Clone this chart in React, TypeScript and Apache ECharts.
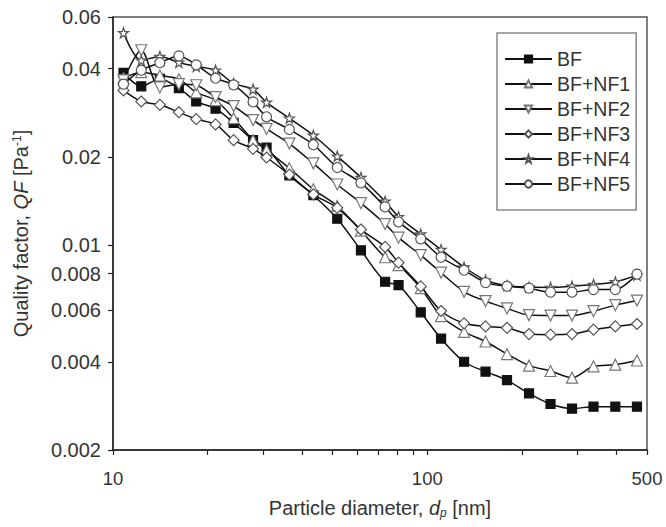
import React, { useEffect, useRef } from "react";
import * as echarts from "echarts";

// Particle diameter (nm) — shared measurement channels
const diameters = [10.8, 12.3, 14.1, 16.2, 18.4, 21.2, 24.2, 27.9, 30.8, 36.4, 43.4, 51.7, 61.5, 73.4, 81.0, 95.3, 110.6, 130.9, 153.2, 179.3, 210.7, 246.6, 288.7, 337.9, 396.5, 464.6];

// Quality factor QF (1/Pa)
const qfBF = [0.0387, 0.0348, 0.0369, 0.0343, 0.0309, 0.0292, 0.0261, 0.0228, 0.0215, 0.0173, 0.0148, 0.0123, 0.0096, 0.0075, 0.0073, 0.0059, 0.0048, 0.0040, 0.0037, 0.00346, 0.00312, 0.00287, 0.00277, 0.00281, 0.00281, 0.00281];
const qfNF1 = [0.0371, 0.0389, 0.0379, 0.0368, 0.0332, 0.0312, 0.0271, 0.0228, 0.0211, 0.0183, 0.0155, 0.0136, 0.0112, 0.00909, 0.00854, 0.00713, 0.00572, 0.00506, 0.00469, 0.00425, 0.00388, 0.00372, 0.00353, 0.00386, 0.00391, 0.00404];
const qfNF2 = [0.0365, 0.0462, 0.0345, 0.0354, 0.0351, 0.0320, 0.0298, 0.0267, 0.0249, 0.0222, 0.0190, 0.0161, 0.0139, 0.0118, 0.0106, 0.00924, 0.00805, 0.00693, 0.00644, 0.00608, 0.00577, 0.00575, 0.00575, 0.00595, 0.00624, 0.00647];
const qfNF3 = [0.0337, 0.0309, 0.0301, 0.0284, 0.0269, 0.0258, 0.0228, 0.0213, 0.0199, 0.0174, 0.0149, 0.0134, 0.0113, 0.00986, 0.00871, 0.00723, 0.00596, 0.00541, 0.00528, 0.00522, 0.00497, 0.00495, 0.00497, 0.00515, 0.00528, 0.00538];
const qfNF4 = [0.0530, 0.0427, 0.0440, 0.0420, 0.0407, 0.0395, 0.0356, 0.0340, 0.0307, 0.0271, 0.0237, 0.0201, 0.0170, 0.0141, 0.0125, 0.0109, 0.00965, 0.00841, 0.00759, 0.00727, 0.00719, 0.00717, 0.00724, 0.00734, 0.00749, 0.00790];
const qfNF5 = [0.0354, 0.0395, 0.0419, 0.0442, 0.0412, 0.0371, 0.0352, 0.0308, 0.0274, 0.0248, 0.0220, 0.0184, 0.0163, 0.0135, 0.0120, 0.0105, 0.00909, 0.00821, 0.00745, 0.00724, 0.00713, 0.00691, 0.00691, 0.00705, 0.00705, 0.00796];

const seriesNames = ["BF", "BF+NF1", "BF+NF2", "BF+NF3", "BF+NF4", "BF+NF5"];

const xTickValues = [10, 20, 30, 40, 50, 60, 70, 80, 90, 100, 200, 300, 400, 500];
const xLabelValues = [10, 100, 500];
const yLabelValues = [0.002, 0.004, 0.006, 0.008, 0.01, 0.02, 0.04, 0.06];

const STAR = "path://M50 0 L61.8 34.5 L97.6 34.5 L68.8 55.9 L79.4 90.5 L50 69.1 L20.6 90.5 L31.2 55.9 L2.4 34.5 L38.2 34.5 Z";

const fmt = (v: any) => {
  const n = Number(v);
  return parseFloat(n.toPrecision(3)).toString();
};

export default function App() {
  const ref = useRef<HTMLDivElement>(null);

  useEffect(() => {
    if (!ref.current) return;
    const chart = echarts.init(ref.current, undefined, { renderer: "svg" });

    const values = [qfBF, qfNF1, qfNF2, qfNF3, qfNF4, qfNF5];
    const styles = [
      { symbol: "rect", size: 9, rotate: 0, fill: "#111", border: "#111" },
      { symbol: "triangle", size: 11, rotate: 0, fill: "#fff", border: "#777" },
      { symbol: "triangle", size: 11, rotate: 180, fill: "#fff", border: "#777" },
      { symbol: "diamond", size: 11, rotate: 0, fill: "#fff", border: "#555" },
      { symbol: STAR, size: 10, rotate: 0, fill: "#fff", border: "#555" },
      { symbol: "circle", size: 10, rotate: 0, fill: "#fff", border: "#555" },
    ];

    const series = seriesNames.map((name, i) => ({
      name,
      type: "line",
      data: diameters.map((d, j) => [d, values[i][j]]),
      smooth: 0.3,
      symbol: styles[i].symbol,
      symbolSize: styles[i].size,
      symbolRotate: styles[i].rotate,
      showAllSymbol: true,
      lineStyle: { color: "#111", width: 1.5 },
      itemStyle: { color: styles[i].fill, borderColor: styles[i].border, borderWidth: 1.2 },
      emphasis: { disabled: true },
      z: 2 + i,
    }));

    chart.setOption({
      animation: false,
      backgroundColor: "#fff",
      textStyle: { fontFamily: "'Liberation Sans', Arial, sans-serif" },
      grid: {
        left: 113,
        right: 19,
        top: 17,
        bottom: 77,
        show: true,
        borderColor: "#555",
        borderWidth: 1.5,
        outerBoundsMode: "none",
      },
      legend: {
        orient: "vertical",
        left: 497,
        top: 33,
        data: seriesNames,
        backgroundColor: "#fff",
        borderColor: "#888",
        borderWidth: 1.5,
        padding: [16, 6, 16, 7],
        itemWidth: 47,
        itemHeight: 9,
        itemGap: 5,
        textStyle: { fontSize: 19.5, color: "#333", lineHeight: 18 },
      },
      xAxis: {
        type: "log",
        logBase: 10,
        min: 10,
        max: 500,
        name: "Particle diameter, {i|d}{sub|p} [nm]",
        nameLocation: "middle",
        nameGap: 47,
        nameTextStyle: {
          fontSize: 20,
          color: "#333",
          rich: {
            i: { fontSize: 20, fontStyle: "italic", color: "#333" },
            sub: { fontSize: 12, fontStyle: "italic", color: "#333", verticalAlign: "bottom", padding: [10, 0, 0, 0] },
          },
        },
        axisLine: { show: true, lineStyle: { color: "#222", width: 1.5 } },
        axisTick: { show: true, inside: false, length: 5, customValues: xTickValues, lineStyle: { color: "#222", width: 1.2 } },
        axisLabel: { customValues: xLabelValues, fontSize: 18.5, color: "#333", margin: 19, formatter: fmt },
        splitLine: { show: false },
        minorTick: { show: false },
      },
      yAxis: {
        type: "log",
        logBase: 10,
        min: 0.002,
        max: 0.06,
        name: "Quality factor, {i|QF} [Pa{sup|-1}]",
        nameLocation: "middle",
        nameRotate: 90,
        nameGap: 82,
        nameTextStyle: {
          fontSize: 20,
          color: "#333",
          rich: {
            i: { fontSize: 20, fontStyle: "italic", color: "#333" },
            sup: { fontSize: 12, color: "#333", verticalAlign: "top", padding: [0, 0, 8, 0] },
          },
        },
        axisLine: { show: true, lineStyle: { color: "#222", width: 1.5 } },
        axisTick: { show: true, inside: false, length: 5, customValues: yLabelValues, lineStyle: { color: "#222", width: 1.2 } },
        axisLabel: { customValues: yLabelValues, fontSize: 20, color: "#333", margin: 12, formatter: fmt },
        splitLine: { show: false },
        minorTick: { show: false },
      },
      series,
    });

    return () => chart.dispose();
  }, []);

  return (
    <div
      ref={ref}
      style={{ position: "fixed", left: 0, top: 0, width: 666, height: 527, background: "#fff" }}
    />
  );
}
